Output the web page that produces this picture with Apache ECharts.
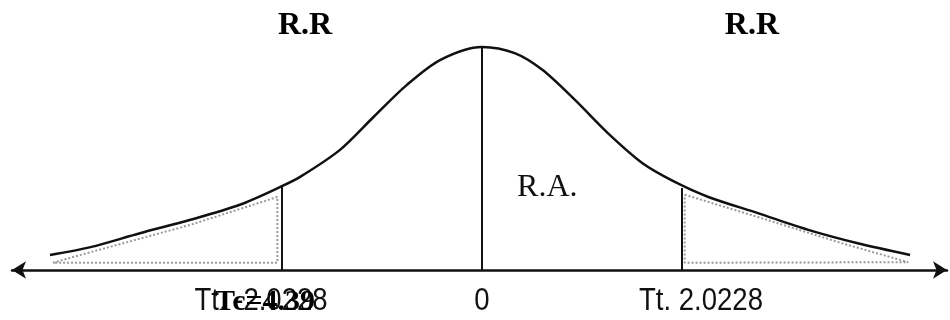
<!DOCTYPE html>
<html>
<head>
<meta charset="utf-8">
<script src="https://cdn.jsdelivr.net/npm/echarts@6/dist/echarts.min.js"></script>
<style>
  html, body { margin: 0; padding: 0; background: #fff; }
  #chart { width: 950px; height: 320px; }
</style>
</head>
<body>
<div id="chart"></div>
<script>
// curve (t value, density)
const curveX = [-4.37, -3.96, -3.46, -2.95, -2.45, -2.04, -1.84, -1.44, -1.10, -0.76, -0.42, 0,
  0.33, 0.61, 0.94, 1.27, 1.62, 1.95, 2.29, 2.79, 3.30, 3.80, 4.33];
const curveY = [0.027, 0.041, 0.066, 0.090, 0.117, 0.149, 0.167, 0.215, 0.274, 0.332, 0.377, 0.400,
  0.389, 0.359, 0.305, 0.246, 0.192, 0.158, 0.131, 0.102, 0.072, 0.048, 0.027];

// critical values and the height where their lines meet the curve
const critX = [-2.0228, 0, 2.0228];
const critTop = [0.149, 0.400, 0.147];

// tick labels under the axis
const tickLabels = ['Tt. -2.0228', '0', 'Tt. 2.0228'];
const tcLabel = 'Tc=4.39';

// dotted outline of the rejection tails
const leftTailX = [-4.34, -3.96, -2.95, -2.07, -2.07, -4.34];
const leftTailY = [0.013, 0.032, 0.081, 0.131, 0.013, 0.013];
const rightTailX = [2.05, 2.79, 3.64, 4.31, 2.05, 2.05];
const rightTailY = [0.135, 0.095, 0.048, 0.014, 0.013, 0.135];

function zip(xs, ys) {
  return xs.map((x, i) => [x, ys[i]]);
}

const chart = echarts.init(document.getElementById('chart'));

const critSeries = critX.map((x, i) => ({
  type: 'line',
  data: [[x, 0], [x, critTop[i]]],
  symbol: 'none',
  lineStyle: { color: '#111', width: 2 },
  silent: true
}));

const serif = "'Liberation Serif', 'Times New Roman', serif";
const tickOffsets = [[-21, 31], [0, 31], [19, 31]];

const option = {
  animation: false,
  backgroundColor: '#fff',
  grid: { left: 12, right: 3, top: 0, bottom: 50 },
  xAxis: {
    type: 'value',
    min: -4.754,
    max: 4.703,
    axisLine: {
      show: true,
      onZero: false,
      symbol: ['arrow', 'arrow'],
      symbolSize: [13, 14],
      lineStyle: { color: '#111', width: 2.5 }
    },
    axisTick: { show: false },
    axisLabel: { show: false },
    splitLine: { show: false }
  },
  yAxis: {
    type: 'value',
    min: 0,
    max: 0.4843,
    show: false
  },
  series: [
    {
      type: 'line',
      data: zip(leftTailX, leftTailY),
      symbol: 'none',
      lineStyle: { color: '#999', width: 2, type: 'dotted' },
      silent: true
    },
    {
      type: 'line',
      data: zip(rightTailX, rightTailY),
      symbol: 'none',
      lineStyle: { color: '#999', width: 2, type: 'dotted' },
      silent: true
    },
    {
      type: 'line',
      data: zip(curveX, curveY),
      symbol: 'none',
      smooth: 0.3,
      lineStyle: { color: '#111', width: 2.5 },
      silent: true
    },
    ...critSeries,
    {
      // Tc value printed over the left tick label
      type: 'scatter',
      symbolSize: 0,
      silent: true,
      z: 5,
      itemStyle: { opacity: 1, color: 'transparent' },
      data: [{
        value: [critX[0], 0],
        label: {
          show: true,
          position: 'inside',
          offset: [-17, 32],
          formatter: tcLabel,
          fontFamily: serif,
          fontWeight: 'bold',
          fontSize: 30,
          color: '#000'
        }
      }]
    },
    {
      // region names
      type: 'scatter',
      symbolSize: 0,
      silent: true,
      itemStyle: { opacity: 1, color: 'transparent' },
      label: {
        show: true,
        position: 'inside',
        fontFamily: serif,
        color: '#000',
        formatter: p => p.name
      },
      data: [
        { name: 'R.R', value: [-1.79, 0.438], label: { fontSize: 32, fontWeight: 'bold' } },
        { name: 'R.R', value: [2.73, 0.438], label: { fontSize: 32, fontWeight: 'bold' } },
        { name: 'R.A.', value: [0.66, 0.147], label: { fontSize: 32, color: '#111' } }
      ]
    }
  ]
};

chart.setOption(option);

// tick labels: narrow sans type, placed from the axis scale
const tickGraphics = critX.map((x, i) => {
  const p = chart.convertToPixel({ gridIndex: 0 }, [x, 0]);
  return {
    type: 'text',
    x: p[0] + tickOffsets[i][0],
    y: p[1] + tickOffsets[i][1],
    scaleX: 0.86,
    z: 1,
    style: {
      text: tickLabels[i],
      font: "32px 'Liberation Sans', Arial, sans-serif",
      fill: '#111',
      textAlign: 'center',
      textVerticalAlign: 'middle'
    }
  };
});
chart.setOption({ graphic: tickGraphics });
</script>
</body>
</html>
